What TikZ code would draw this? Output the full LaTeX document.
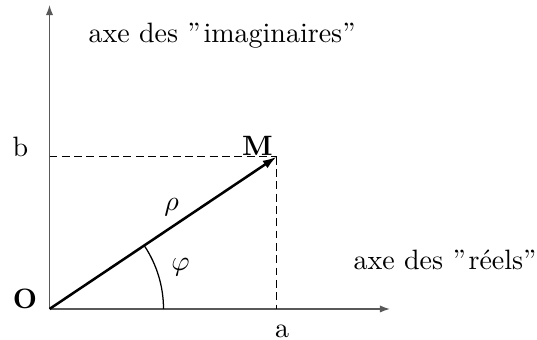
\documentclass[tikz,border=0pt]{standalone}
\usetikzlibrary{arrows.meta}
\begin{document}
\begin{tikzpicture}[x=0.357pt,y=0.357pt,
  axis/.style={draw=black!65,line width=0.5pt,-{Latex[length=3.6pt,width=2.6pt]}},
  vect/.style={draw=black,line width=0.9pt,-{Latex[length=5pt,width=3.2pt]}},
  proj/.style={draw=black,line width=0.4pt,dash pattern=on 2.8pt off 1.6pt},
  lbl/.style={inner sep=0pt,font=\fontsize{10}{12}\selectfont}]
\useasboundingbox (0,0) rectangle (537,340);
\coordinate (O) at (49.5,31);
\coordinate (X) at (390,31);
\coordinate (Y) at (49.5,335);
\coordinate (M) at (276.7,183.3);
\coordinate (A) at (276.7,31);
\coordinate (B) at (49.5,183.3);
\draw[axis] (O) -- (X);
\draw[axis] (O) -- (Y);
\draw[proj] (B) -- (M);
\draw[proj] (M) -- (A);
\draw[vect] (O) -- (M);
\draw[line width=0.45pt] ([xshift=40.7pt]O) arc[start angle=0,end angle=33.8,radius=40.7pt];
\node[lbl,anchor=base] (lb) at (20.5,183) {b};
\node[lbl,anchor=base] (la) at (282,2) {a};
\node[lbl,anchor=base] (lO) at (25,31) {\bfseries O};
\node[lbl,anchor=base] (lM) at (257.5,184) {\bfseries M};
\node[lbl] (lrho) at (171.5,132.5) {$\rho$};
\node[lbl] (lphi) at (180.5,72.5) {$\varphi$};
\node[lbl,anchor=base west] (li) at (88,297) {axe des ”\kern0.1em imaginaires”};
\node[lbl,anchor=base west] (lr) at (353,70) {axe des ”\kern0.1em réels”};
\end{tikzpicture}
\end{document}
